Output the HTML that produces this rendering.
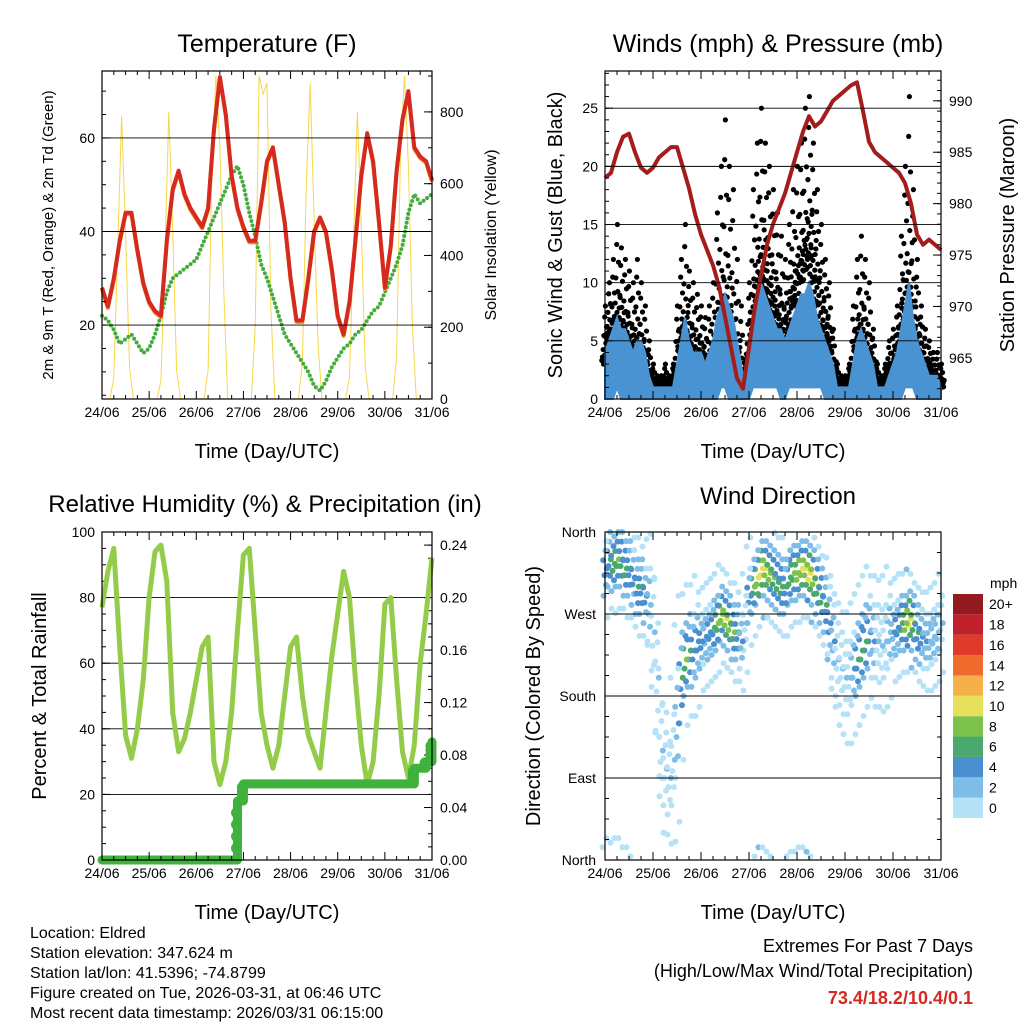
<!DOCTYPE html>
<html><head><meta charset="utf-8"><style>
body{margin:0;background:#fff;}
svg{display:block;font-family:"Liberation Sans",sans-serif;}
</style></head><body>
<svg id="c" width="1024" height="1024" viewBox="0 0 1024 1024"></svg>
<script>
// ---------- DATA ----------
const tempF=[28,24,30,38,44,44,36,29,25,23,22,38,49,53,48,45,43,41,45,62,73,65,52,45,41,38,38,46,55,58,50,42,30,21,21,30,40,43,40,32,22,18,25,38,52,61,55,42,28,37,53,64,70,58,56,55,51];
const dewF=[22,21,19,16,17,18,16,14,15,18,22,27,30,31,32,33,34,37,40,43,46,49,52,54,50,44,39,33,30,26,22,18,16,14,12,10,7,6,8,11,13,15,16,18,19,21,23,24,27,30,33,37,44,48,46,47,48];
const pressure=[982.5,983,985,986.5,986.8,985,983.5,983,983.5,984.5,985,985.5,985.5,983.5,981.5,979,977,975.5,974,972,969,966,963,962,966,970,973,976,978,979.5,981,983,985,987,988.5,987.5,988,989,990,990.5,991,991.5,991.8,989,986,985,984.5,984,983.5,983,982,980,977,976,976.5,976,975.5];
const rh=[77,88,95,65,38,31,40,55,80,94,96,85,45,33,37,45,55,65,68,30,23,30,45,70,93,95,70,45,35,28,35,50,65,68,50,38,33,28,45,62,75,88,80,55,35,23,30,50,78,80,55,33,25,35,60,75,92];
const precip=[0,0,0,0,0,0,0,0,0,0,0,0,0,0,0,0,0,0,0,0,0,0,0,0.045,0.058,0.058,0.058,0.058,0.058,0.058,0.058,0.058,0.058,0.058,0.058,0.058,0.058,0.058,0.058,0.058,0.058,0.058,0.058,0.058,0.058,0.058,0.058,0.058,0.058,0.058,0.058,0.058,0.058,0.07,0.07,0.075,0.09];
const solar=[0,0,0,60,420,790,460,90,0,0,0,0, 0,0,0,50,400,800,470,80,0,0,0,0, 0,0,0,80,650,900,700,300,0,0,0,0, 0,0,0,200,900,850,880,250,0,0,0,0, 0,0,0,100,600,880,500,150,0,0,0,0, 0,0,0,60,430,800,480,90,0,0,0,0, 0,0,0,120,700,900,650,200,0,0,0,0,0];
const gustMax=[8,10,12,15,13,12,11,10,12,10,8,5, 3,2,2,3,2,3,8,12,15,11,10,9, 8,7,8,10,16,20,24,20,18,12,8,3, 10,18,22,25,22,20,18,16,14,12,15,18, 20,22,25,26,22,18,15,12,10,6,3,2, 2,3,8,12,14,12,10,6,3,2,3,5, 6,8,14,20,26,18,12,8,6,5,4,4,3];
const gustMin=[3,5,4,6,5,5,4,3,4,3,2,1, 1,1,1,1,1,1,2,4,5,4,3,3, 3,2,2,3,4,6,6,5,4,2,1,1, 3,6,8,10,9,8,7,6,5,4,6,8, 8,10,11,12,10,8,6,5,4,2,1,1, 1,1,2,4,5,4,3,2,1,1,1,2, 2,3,5,7,8,6,4,3,2,2,1,1,1];
const windMax=[4,5,6,7,6,6,5,4,5,5,4,2, 1,1,1,1,1,1,3,5,7,5,4,4, 4,3,4,5,7,8,9,8,7,5,3,1, 4,7,9,10,9,8,7,6,6,5,6,7, 8,9,9,10,9,7,6,5,4,3,1,1, 1,1,3,5,6,5,4,3,1,1,1,2, 3,4,6,8,10,7,5,4,3,2,2,2,1];
const windMin=[0,0,0,1,0,0,0,0,0,0,0,0, 0,0,0,0,0,0,0,0,0,0,0,0, 0,0,0,0,0,1,1,0,0,0,0,0, 0,1,1,1,1,1,1,1,0,0,1,1, 1,1,1,1,1,1,1,0,0,0,0,0, 0,0,0,0,0,0,0,0,0,0,0,0, 0,0,0,1,1,1,0,0,0,0,0,0,0];
const dirCenter=[320,330,325,330,330,320,320,310,300,300,290,280, 250,200,120,100,90,110,150,200,220,230,230,240, 240,245,250,255,260,270,265,260,250,250,240,260, 290,300,310,320,320,315,310,305,300,300,310,315, 315,320,320,315,310,300,290,280,260,240,220,210, 200,200,210,220,230,240,250,240,240,235,240,250, 250,255,260,260,265,260,250,245,240,240,245,250,260];
const dirSpread=[30,30,30,30,30,30,30,30,30,30,30,40, 60,60,50,40,40,50,60,50,40,40,40,40, 30,30,30,30,30,30,30,30,30,30,30,30, 30,30,30,30,30,30,30,30,30,30,30,30, 30,30,30,30,30,30,30,30,40,40,40,40, 40,40,40,40,40,40,40,40,40,40,40,40, 30,30,30,30,30,30,30,30,30,30,30,30,30];
const dayLabels=["24/06","25/06","26/06","27/06","28/06","29/06","30/06","31/06"];
const tempTicks=[20,40,60];
const solarTicks=[0,200,400,600,800];
const windTicks=[0,5,10,15,20,25];
const pressTicks=[965,970,975,980,985,990];
const rhTicks=[0,20,40,60,80,100];
const precipTicks=[0,0.04,0.08,0.12,0.16,0.20,0.24];
const dirTicks=[0,90,180,270,360];
const dirNames=["North","East","South","West","North"];
const speedLevels=["0","2","4","6","8","10","12","14","16","18","20+"];
const speedColors=["#b5e2f7","#7dbde8","#4a8fcf","#4aa96c","#7dc24a","#e6e05a","#f6b04a","#ef6a2c","#df3b2a","#c0212a","#931b1f"];

// ---------- HELPERS ----------
const svg=document.getElementById('c');
const NS="http://www.w3.org/2000/svg";
function mk(tag,attrs,parent){const e=document.createElementNS(NS,tag);for(const k in attrs)e.setAttribute(k,attrs[k]);(parent||svg).appendChild(e);return e;}
function lin(d0,d1,r0,r1){return v=>r0+(v-d0)*(r1-r0)/(d1-d0);}
function txt(x,y,s,size,anchor,rot,name,extra){
  const t=mk('text',Object.assign({x:x,y:y,'font-size':size,'text-anchor':anchor||'middle',fill:'#000'},extra||{}));
  if(rot)t.setAttribute('transform','rotate(-90 '+x+' '+y+')');
  t.textContent=s;
  
  
  return t;
}
function frame(P,name){
  const r=mk('rect',{x:P.x0,y:P.y0,width:P.x1-P.x0,height:P.y1-P.y0,fill:'none',stroke:'#000','stroke-width':1.2});
  
  
}
function xAxis(P,name){
  const g=mk('g',{});
  
  
  const xs=lin(0,168,P.x0,P.x1);
  for(let h=0;h<=168;h+=6){
    const x=xs(h),L=(h%24===0)?8:4;
    mk('line',{x1:x,x2:x,y1:P.y1,y2:P.y1-L,stroke:'#000'},g);
    mk('line',{x1:x,x2:x,y1:P.y0,y2:P.y0+L,stroke:'#000'},g);
  }
  dayLabels.forEach((d,i)=>{txt(xs(i*24),P.y1+18,d,14,'middle',false,'x-tick-label');});
  txt((P.x0+P.x1)/2,P.y1+59,"Time (Day/UTC)",20,'middle',false,'x-axis-title');
}
function yTicks(P,ticks,scale,side,fmt,grid,minorStep,name){
  const g=mk('g',{});
  
  
  const x=side==='left'?P.x0:P.x1, dir=side==='left'?1:-1;
  ticks.forEach(v=>{
    const y=scale(v);
    if(y<P.y0-0.5||y>P.y1+0.5)return;
    mk('line',{x1:x,x2:x+dir*8,y1:y,y2:y,stroke:'#000'},g);
    if(grid)mk('line',{x1:P.x0,x2:P.x1,y1:y,y2:y,stroke:'#000','stroke-width':0.9},g);
    txt(side==='left'?x-7:x+8,y+5,fmt(v),14,side==='left'?'end':'start',false,'y-tick-label');
  });
  if(minorStep){
    const lo=ticks[0]-minorStep*20,hi=ticks[ticks.length-1]+minorStep*20;
    for(let v=lo;v<=hi;v+=minorStep){const y=scale(v);if(y<P.y0||y>P.y1)continue;
      mk('line',{x1:x,x2:x+dir*4,y1:y,y2:y,stroke:'#000'},g);}
  }
}
function path(pts){return pts.map((p,i)=>(i?'L':'M')+p[0].toFixed(1)+' '+p[1].toFixed(1)).join(' ');}

// ---------- PANEL 1: TEMPERATURE ----------
const P1={x0:102,x1:432,y0:71,y1:399};
const x1s=lin(0,168,P1.x0,P1.x1), tS=lin(4.2,74.3,P1.y1,P1.y0), sS=lin(0,914,P1.y1,P1.y0);
txt(267,52,"Temperature (F)",25,'middle',false,'temperature-title');
{
 const sp=mk('path',{d:path(solar.map((v,i)=>[x1s(i*2),sS(v)])),fill:'none',stroke:'#f7d64a','stroke-width':1});
 
 
 const dp=mk('path',{d:path(dewF.map((v,i)=>[x1s(i*3),tS(v)])),fill:'none',stroke:'#45ab3c','stroke-width':4,'stroke-linecap':'round','stroke-dasharray':'0 4.5'});
 
 
 const op=mk('path',{d:path(tempF.map((v,i)=>[x1s(i*3),tS(v)+1.5])),fill:'none',stroke:'#f08c1e','stroke-width':4,'stroke-linejoin':'round'});
 
 
 const rp=mk('path',{d:path(tempF.map((v,i)=>[x1s(i*3),tS(v)])),fill:'none',stroke:'#d42a1f','stroke-width':4,'stroke-linejoin':'round'});
 
 
}
yTicks(P1,tempTicks,tS,'left',v=>v,true,5,'temp-y-axis');
yTicks(P1,solarTicks,sS,'right',v=>v,false,100,'solar-y-axis');
frame(P1,'temperature-plot-frame');
xAxis(P1,'temp-x-axis');
txt(53,235,"2m & 9m T (Red, Orange) & 2m Td (Green)",15,'middle',true,'temp-y-title');
txt(496,235,"Solar Insolation (Yellow)",16,'middle',true,'solar-y-title');

// ---------- PANEL 2: WINDS ----------
const P2={x0:605,x1:941,y0:71,y1:399};
const x2s=lin(0,168,P2.x0,P2.x1), wS=lin(0,28.2,P2.y1,P2.y0), pS=lin(961,992.9,P2.y1,P2.y0);
txt(778,52,"Winds (mph) & Pressure (mb)",25,'middle',false,'winds-title');
{
 const offs=[0,0.1,0.2,0.3,0.4,0.5,0.6,0.7,0.8,0.9,1,0.15,0.35,0.55,0.25,0.45];
 const xo=[-1.5,1.2,-0.6,1.8,0,-1.8,0.8,-1.1,1.5,-0.3,0.4,2.6,-2.6,3.2,-3.2,2.2];
 gustMax.forEach((gm,i)=>{
   offs.forEach((f,k)=>{
     const v=gustMin[i]+(gm-gustMin[i])*f*f;
     const c=mk('circle',{cx:x2s(i*2)+xo[k],cy:wS(v),r:2.6,fill:'#000'});
     
     
   });
 });
 const top=windMax.map((v,i)=>[x2s(i*2),wS(v)]);
 const bot=windMin.map((v,i)=>[x2s(i*2),wS(v)]).reverse();
 const band=mk('path',{d:path(top.concat(bot))+' Z',fill:'#4a93d2',stroke:'#4a93d2','stroke-width':2});
 
 
 const pp=mk('path',{d:path(pressure.map((v,i)=>[x2s(i*3),pS(v)])),fill:'none',stroke:'#a31d1d','stroke-width':4,'stroke-linejoin':'round'});
 
 
}
yTicks(P2,windTicks,wS,'left',v=>v,true,1,'wind-y-axis');
yTicks(P2,pressTicks,pS,'right',v=>v,false,1,'pressure-y-axis');
frame(P2,'winds-plot-frame');
xAxis(P2,'wind-x-axis');
txt(562,235,"Sonic Wind & Gust (Blue, Black)",20,'middle',true,'wind-y-title');
txt(1014,235,"Station Pressure (Maroon)",20,'middle',true,'pressure-y-title');

// ---------- PANEL 3: RH & PRECIP ----------
const P3={x0:102,x1:432,y0:532,y1:860};
const x3s=lin(0,168,P3.x0,P3.x1), rS=lin(0,100,P3.y1,P3.y0), prS=lin(0,0.25,P3.y1,P3.y0);
txt(265,512,"Relative Humidity (%) & Precipitation (in)",24,'middle',false,'rh-title');
yTicks(P3,rhTicks,rS,'left',v=>v,true,5,'rh-y-axis');
yTicks(P3,precipTicks,prS,'right',v=>v.toFixed(2),false,0.01,'precip-y-axis');
{
 const rp=mk('path',{d:path(rh.map((v,i)=>[x3s(i*3),rS(v)])),fill:'none',stroke:'#94cc4a','stroke-width':5,'stroke-linejoin':'round'});
 
 
 const pts=[];
 precip.forEach((v,i)=>{
   if(i>0&&v!==precip[i-1])pts.push([x3s(i*3),prS(precip[i-1])]);
   pts.push([x3s(i*3),prS(v)]);
 });
 const pl=mk('path',{d:path(pts),fill:'none',stroke:'#3fb13d','stroke-width':9,'stroke-linecap':'round','stroke-linejoin':'round'});
 
 
 precip.forEach((v,i)=>{
   if(i>0&&v!==precip[i-1]){
     for(let k=1;k<=4;k++){
       const c=mk('circle',{cx:x3s(i*3)-1,cy:prS(precip[i-1]+(v-precip[i-1])*k/5),r:5.5,fill:'#3fb13d'});
       
       
     }
   }
 });
}
frame(P3,'rh-plot-frame');
xAxis(P3,'rh-x-axis');
txt(46,696,"Percent & Total Rainfall",20,'middle',true,'rh-y-title');

// ---------- PANEL 4: WIND DIRECTION ----------
const P4={x0:605,x1:941,y0:532,y1:860};
const x4s=lin(0,168,P4.x0,P4.x1), dS=lin(0,360,P4.y1,P4.y0);
txt(778,504,"Wind Direction",24,'middle',false,'wind-direction-title');
{
 const g=mk('g',{});
 const fo=[-1,-0.6,-0.25,0,0.3,0.65,1,-1.8,1.8];
 const xo=[-1.5,1,-0.5,1.8,-1.8,0.5,1.2,2.5,-2.5];
 const sf=[0.3,0.6,0.9,1,0.8,0.5,0.2,0.1,0.1];
 fo.forEach((f,k)=>{
   dirCenter.forEach((c,i)=>{
     let d=c+dirSpread[i]*f;
     if(d>360)d-=360; if(d<0)d+=360;
     const spd=windMax[i]*sf[k];
     const ci=Math.max(0,Math.min(10,Math.round(spd/2)));
     const e=mk('circle',{cx:x4s(i*2)+xo[k],cy:dS(d),r:3,fill:speedColors[ci]},g);
     
     
   });
 });
 
 
}
{
 const g=mk('g',{});
 
 
 dirTicks.forEach((v,i)=>{
   const y=dS(v);
   mk('line',{x1:P4.x0,x2:P4.x1,y1:y,y2:y,stroke:'#000','stroke-width':0.9},g);
   txt(P4.x0-9,y+5,dirNames[i],14,'end',false,'direction-tick-label');
 });
 for(let v=0;v<=360;v+=22.5){const y=dS(v);
   mk('line',{x1:P4.x0,x2:P4.x0+4,y1:y,y2:y,stroke:'#000'},g);
   mk('line',{x1:P4.x1,x2:P4.x1-4,y1:y,y2:y,stroke:'#000'},g);}
}
frame(P4,'direction-plot-frame');
xAxis(P4,'direction-x-axis');
txt(540,696,"Direction (Colored By Speed)",20,'middle',true,'direction-y-title');
{
 const g=mk('g',{});
 
 
 const bh=224/11;
 speedLevels.forEach((lab,i)=>{
   const y=818-(i+1)*bh;
   const r=mk('rect',{x:953,y:y,width:30,height:bh,fill:speedColors[i]},g);
   
   
   txt(989,y+bh/2+5,lab,14,'start',false,'colorbar-label');
 });
 txt(990,588,"mph",14,'start',false,'colorbar-unit');
}

// ---------- FOOTER ----------
const info=["Location: Eldred","Station elevation: 347.624 m","Station lat/lon: 41.5396; -74.8799","Figure created on Tue, 2026-03-31, at 06:46 UTC","Most recent data timestamp: 2026/03/31 06:15:00"];
info.forEach((s,i)=>txt(30,938+i*20,s,16,'start',false,'station-info-line'));
txt(973,952,"Extremes For Past 7 Days",18,'end',false,'extremes-heading');
txt(973,977,"(High/Low/Max Wind/Total Precipitation)",18,'end',false,'extremes-subheading');
txt(973,1004,"73.4/18.2/10.4/0.1",18,'end',false,'extremes-values',{fill:'#d42a1f','font-weight':'bold'});
</script>
</body></html>
